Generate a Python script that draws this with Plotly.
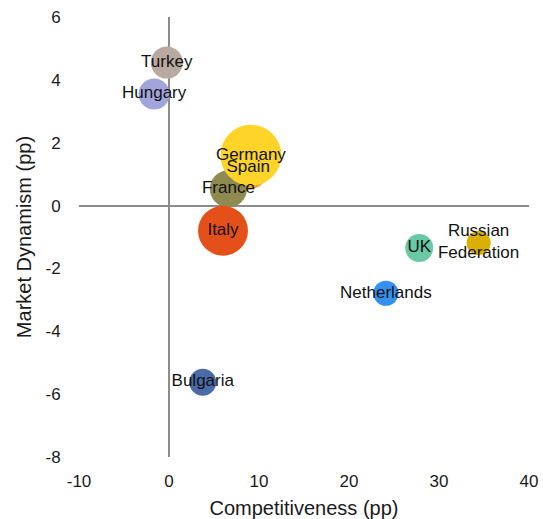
import plotly.graph_objects as go

countries = ["Spain", "France", "Germany", "Italy", "Turkey", "Hungary",
             "UK", "Russian<br>Federation", "Netherlands", "Bulgaria"]
competitiveness = [8.8, 6.6, 9.1, 6.0, -0.25, -1.65, 27.8, 34.4, 24.1, 3.75]
market_dynamism = [1.2, 0.53, 1.6, -0.8, 4.55, 3.55, -1.35, -1.19, -2.79, -5.62]
weight = [50, 37, 100, 67, 27.5, 26, 21, 15.5, 17, 19.6]
colors = ["#f0a030", "#8e8a52", "#ffd428", "#e5501a", "#b8aaa0", "#a2a4dc",
          "#68c9a4", "#d9b000", "#3591f0", "#4a6aa8"]

x_ticks = [-10, 0, 10, 20, 30, 40]
x_tick_labels = ["-10", "0", "10", "20", "30", "40"]
y_ticks = [-8, -6, -4, -2, 0, 2, 4, 6]
y_tick_labels = ["-8", "-6", "-4", "-2", "0", "2", "4", "6"]

max_diam = 61
fig = go.Figure(go.Scatter(
    x=competitiveness, y=market_dynamism, text=countries,
    mode="markers+text", textposition="middle center",
    textfont=dict(size=17, color="#111111"),
    marker=dict(size=weight, sizemode="area",
                sizeref=2.0 * max(weight) / max_diam ** 2,
                color=colors, opacity=1, line=dict(width=0)),
    hoverinfo="text", showlegend=False,
))

axis_common = dict(showgrid=False, showline=False, zeroline=True,
                   zerolinecolor="#8c8c8c", zerolinewidth=1.5,
                   ticks="outside", tickcolor="rgba(0,0,0,0)",
                   automargin=False,
                   tickfont=dict(size=17, color="#1a1a1a"))

fig.update_layout(
    width=543, height=519,
    margin=dict(l=79, r=14, t=17, b=62),
    paper_bgcolor="white", plot_bgcolor="white",
    font=dict(family="Liberation Sans, Arial, sans-serif", size=17, color="#1a1a1a"),
    xaxis=dict(range=[-10, 40], tickvals=x_ticks, ticktext=x_tick_labels, ticklen=9,
               title=dict(text="Competitiveness (pp)", standoff=10), **axis_common),
    yaxis=dict(range=[-8, 6], tickvals=y_ticks, ticktext=y_tick_labels, ticklen=14,
               title=dict(text="Market Dynamism (pp)", standoff=8), **axis_common),
)

fig.write_html("out.html", config={"displayModeBar": False},
               post_script="document.body.style.margin='0';document.body.style.overflow='hidden';")
